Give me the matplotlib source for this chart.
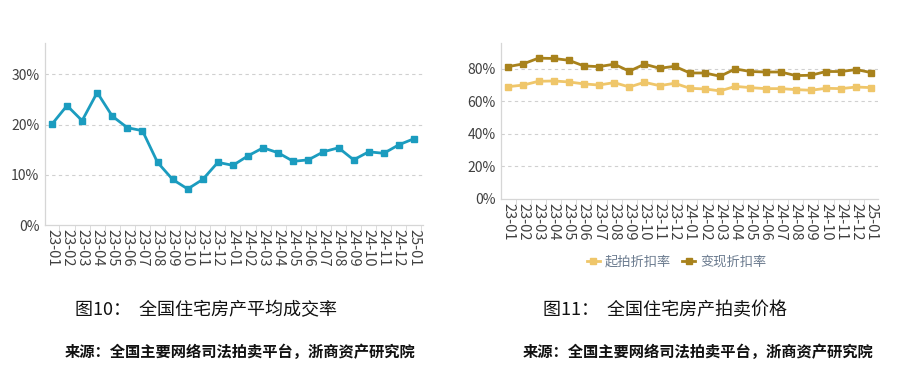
import matplotlib
matplotlib.use("Agg")
import matplotlib.pyplot as plt
from matplotlib.ticker import FixedLocator, PercentFormatter

plt.rcParams['font.family'] = ['Noto Sans CJK SC', 'DejaVu Sans']

months = ["23-01","23-02","23-03","23-04","23-05","23-06","23-07","23-08","23-09","23-10",
          "23-11","23-12","24-01","24-02","24-03","24-04","24-05","24-06","24-07","24-08",
          "24-09","24-10","24-11","24-12","25-01"]
deal_rate = [20.1, 23.8, 20.8, 26.4, 21.7, 19.4, 18.8, 12.5, 9.1, 7.2,
             9.1, 12.5, 11.9, 13.8, 15.4, 14.4, 12.7, 13.0, 14.6, 15.4,
             13.0, 14.6, 14.3, 16.0, 17.2]
start_discount = [68.9, 69.9, 72.2, 72.4, 71.8, 70.6, 69.9, 71.4, 68.7, 71.6,
                  69.5, 71.0, 67.9, 67.5, 66.3, 69.1, 68.3, 67.7, 67.7, 67.1,
                  66.7, 67.9, 67.7, 68.7, 68.3]
real_discount = [81.2, 82.9, 86.4, 86.2, 85.1, 81.6, 81.2, 82.7, 78.4, 82.7,
                 80.2, 81.4, 77.3, 77.3, 75.3, 79.8, 78.2, 77.9, 77.9, 75.7,
                 75.9, 78.2, 78.2, 79.4, 77.5]

teal = "#1b9cbf"
gold_dark = "#a8821c"
gold_light = "#efc66a"
grid_c = "#d0d0d0"
spine_c = "#d6d6d6"
tick_c = "#404040"

fig = plt.figure(figsize=(9, 3.79), dpi=100)
x = list(range(len(months)))

def style(ax, yticks, ylim, xlim):
    ax.set_xlim(*xlim)
    ax.set_ylim(*ylim)
    ax.set_yticks(yticks)
    ax.yaxis.set_major_formatter(PercentFormatter(decimals=0))
    for s in ["top", "right"]:
        ax.spines[s].set_visible(False)
    for s in ["left", "bottom"]:
        ax.spines[s].set_color(spine_c)
        ax.spines[s].set_linewidth(0.9)
    ax.set_xticks(x)
    ax.set_xticklabels(months, rotation=-90, fontsize=10.5, color=tick_c)
    ax.tick_params(axis="x", which="major", length=0, pad=3)
    ax.xaxis.set_minor_locator(FixedLocator([i - 0.5 for i in range(len(months) + 1)]))
    ax.tick_params(axis="x", which="minor", length=4, color=spine_c)
    ax.tick_params(axis="y", length=0, labelsize=10, labelcolor=tick_c, pad=4)
    for t in yticks[1:]:
        ax.axhline(t, color=grid_c, lw=0.8, ls=(0, (3, 3)), zorder=0)

ax1 = fig.add_axes([0.05, 0.406, 0.42, 0.481])
ax1.plot(x, deal_rate, color=teal, lw=2.0, marker="s", ms=4.5, zorder=3)
style(ax1, [0, 10, 20, 30], (0, 36.3), (-0.46, 24.6))

ax2 = fig.add_axes([0.557, 0.475, 0.419, 0.412])
ax2.plot(x, start_discount, color=gold_light, lw=2.0, marker="s", ms=4.5, label="起拍折扣率", zorder=3)
ax2.plot(x, real_discount, color=gold_dark, lw=2.0, marker="s", ms=4.5, label="变现折扣率", zorder=3)
style(ax2, [0, 20, 40, 60, 80], (0, 95.8), (-0.46, 24.46))
leg = ax2.legend(loc="center", bbox_to_anchor=(0.465, -0.405), ncol=2, frameon=False,
                 fontsize=9.5, handlelength=1.0, handletextpad=0.4, columnspacing=0.8,
                 markerscale=0.9)
for t in leg.get_texts():
    t.set_color("#6a7a8e")

fig.text(75/900, 1 - 310/379, "图10：  全国住宅房产平均成交率", fontsize=13, va="center", ha="left", color="#111111")
fig.text(65/900, 1 - 352/379, "来源：全国主要网络司法拍卖平台，浙商资产研究院", fontsize=11, va="center", ha="left", color="#111111", fontweight="bold")
fig.text(543/900, 1 - 310/379, "图11：  全国住宅房产拍卖价格", fontsize=13, va="center", ha="left", color="#111111")
fig.text(523/900, 1 - 352/379, "来源：全国主要网络司法拍卖平台，浙商资产研究院", fontsize=11, va="center", ha="left", color="#111111", fontweight="bold")

fig.savefig("out.png", dpi=100, facecolor="white")
